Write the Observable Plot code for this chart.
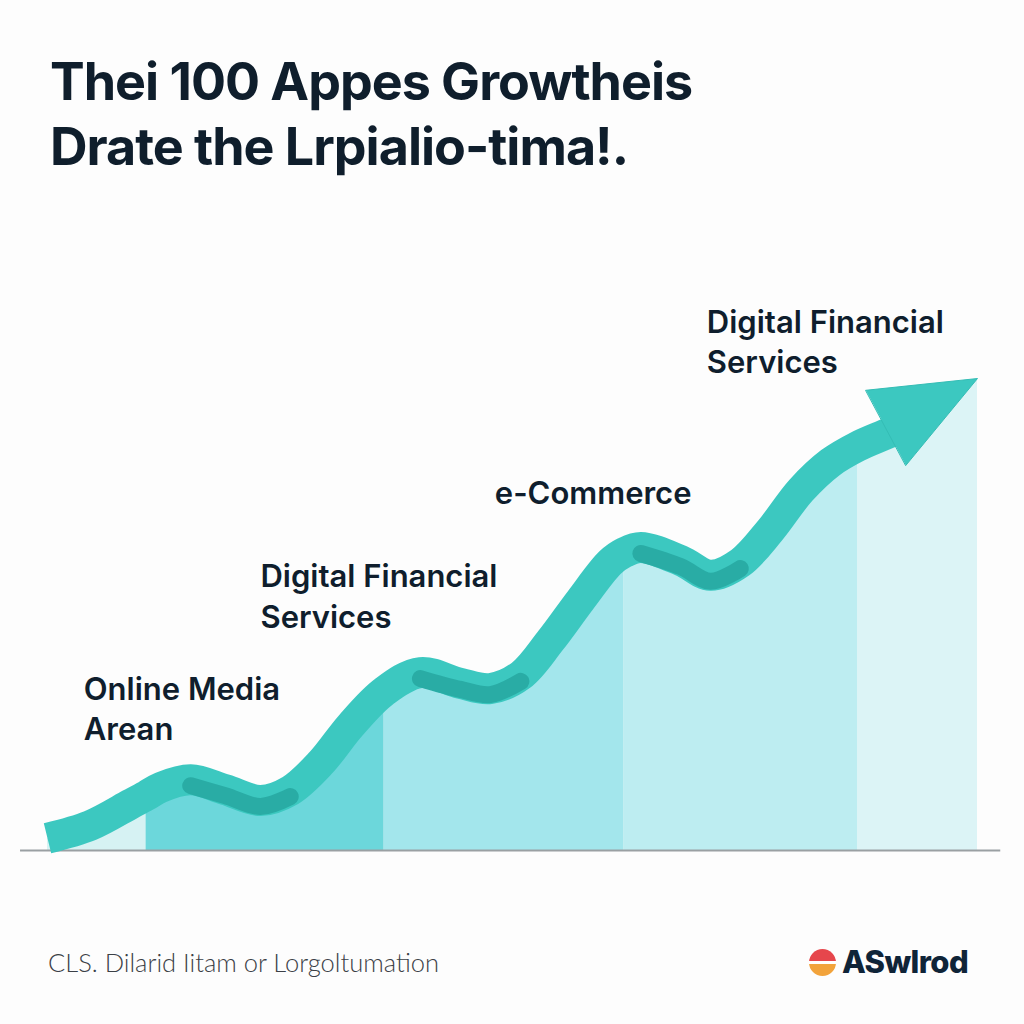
<!DOCTYPE html>
<html>
<head>
<meta charset="utf-8">
<script src="https://cdn.jsdelivr.net/npm/d3@7"></script>
<script src="https://cdn.jsdelivr.net/npm/@observablehq/plot@0.6"></script>
<style>
  html, body { margin: 0; padding: 0; background: #fdfdfd; }
  #page { position: relative; width: 1024px; height: 1024px; overflow: hidden; font-family: Inter, "Noto Sans", sans-serif; }
  #title { position: absolute; left: 50px; top: 49px; font-size: 52px; line-height: 65px; font-weight: 700; color: #0f1e2c; letter-spacing: -1px; white-space: nowrap; }
  #chart { position: absolute; left: 0; top: 240px; }
  #source { position: absolute; left: 48px; top: 947px; font-family: Lato, sans-serif; font-weight: 300; font-size: 25.5px; line-height: 30px; color: #3b4046; }
  #logo { position: absolute; left: 809px; top: 947px; display: flex; align-items: center; }
  #logo .mark { width: 27px; height: 27px; border-radius: 50%; background: linear-gradient(to bottom, #e6464c 0 46%, #ffffff 46% 55%, #f2a33b 55% 100%); margin-right: 6px; }
  #logo .name { font-family: Inter, sans-serif; font-weight: 800; font-size: 31px; line-height: 30px; color: #0f2438; letter-spacing: -0.6px; }
</style>
</head>
<body>
<div id="page">
  <div id="title">Thei 100 Appes Growtheis<br>Drate the Lrpialio-tima!.</div>
  <div id="chart"></div>
  <div id="source">CLS. Dilarid Iitam or Lorgoltumation</div>
  <div id="logo"><div class="mark"></div><div class="name">ASwlrod</div></div>
</div>
<script>
// Growth curve (period index vs growth index)
const periods = [0, 4.6, 8.9, 10.6, 12.2, 15.4, 19.1, 22.9, 26.1, 29.4, 32.6, 36.2, 40.1, 44.4, 47.6, 50.9, 54.1, 57.3, 60.5, 62.0, 63.8, 68.1, 71.3, 74.5, 77.7, 81.0, 84.2, 87.1, 90.6, 93.3];
const growth  = [2.6, 5.3, 9.8, 11.6, 13.4, 15.0, 12.9, 10.6, 12.7, 18.6, 26.5, 33.7, 37.7, 35.4, 34.3, 37.1, 44.5, 53.0, 61.0, 63.1, 64.2, 61.4, 58.3, 61.0, 67.8, 76.3, 82.2, 85.6, 88.6, 91.1];

// End of the shaded area (arrow tip)
const endPeriod = 100;
const endGrowth = 100;

// Shaded column bands
const bandBounds = [0, 10.6, 36.2, 62.0, 87.1, 100];
const bandColors = ["#d6f2f3", "#6cd7db", "#a3e6ec", "#bdedf1", "#dcf4f6"];

// Folds of the ribbon (period ranges)
const foldStart = [15.4, 40.1, 63.8];
const foldEnd   = [27.6, 51.0, 75.6];

// Arrow head vertices
const arrowX = [88.0, 100, 92.3];
const arrowY = [97.5, 100, 81.6];

// Labels
const labelNames = ["Online Media\nArean", "Digital Financial\nServices", "e-Commerce", "Digital Financial\nServices"];
const labelX = [3.9, 22.9, 48.1, 70.9];
const labelY = [38.0, 61.8, 79.4, 115.8];

const curve = periods.map((p, i) => ({x: p, y: growth[i]}));
const areaPts = curve.concat([{x: endPeriod, y: endGrowth}]);
const areaRows = [];
bandColors.forEach((c, s) => {
  areaPts.filter(d => d.x >= bandBounds[s] && d.x <= bandBounds[s + 1])
    .forEach(d => areaRows.push({x: d.x, y: d.y, band: s}));
});
const foldRows = [];
foldStart.forEach((a, k) => {
  curve.filter(d => d.x >= a && d.x <= foldEnd[k]).forEach(d => foldRows.push({x: d.x, y: d.y, fold: k}));
});
const arrow = arrowX.map((x, i) => ({x, y: arrowY[i]}));
const labels = labelNames.map((n, i) => ({name: n, x: labelX[i], y: labelY[i]}));

const ribbon = "#3cc8c0";

const chart = Plot.plot({
  width: 1024,
  height: 660,
  marginLeft: 47,
  marginRight: 47,
  marginTop: 138,
  marginBottom: 50,
  x: {domain: [0, 100], axis: null},
  y: {domain: [0, 100], axis: null},
  style: {background: "transparent", fontFamily: "Inter, sans-serif", overflow: "visible"},
  marks: [
    Plot.areaY(areaRows, {x: "x", y1: 0, y2: "y", z: "band", fill: d => bandColors[d.band], curve: "catmull-rom"}),
    Plot.ruleY([0], {x1: -2.9, x2: 102.5, stroke: "#9aa0a3", strokeWidth: 2}),
    Plot.line(curve, {x: "x", y: "y", stroke: ribbon, strokeWidth: 31, curve: "catmull-rom", strokeLinecap: "butt", strokeLinejoin: "round"}),
    Plot.line(foldRows, {x: "x", y: "y", z: "fold", stroke: "#29aca5", strokeWidth: 17, dy: 6, curve: "catmull-rom", strokeLinecap: "round"}),
    Plot.line(arrow, {x: "x", y: "y", fill: ribbon, stroke: "#34bdb5", strokeWidth: 1, curve: "linear-closed"}),
    Plot.text(labels, {x: "x", y: "y", text: "name", textAnchor: "start", lineAnchor: "top", fontSize: 31, fontWeight: 600, fill: "#0f1e2d", lineHeight: 1.3})
  ]
});
document.getElementById("chart").appendChild(chart);
</script>
</body>
</html>
